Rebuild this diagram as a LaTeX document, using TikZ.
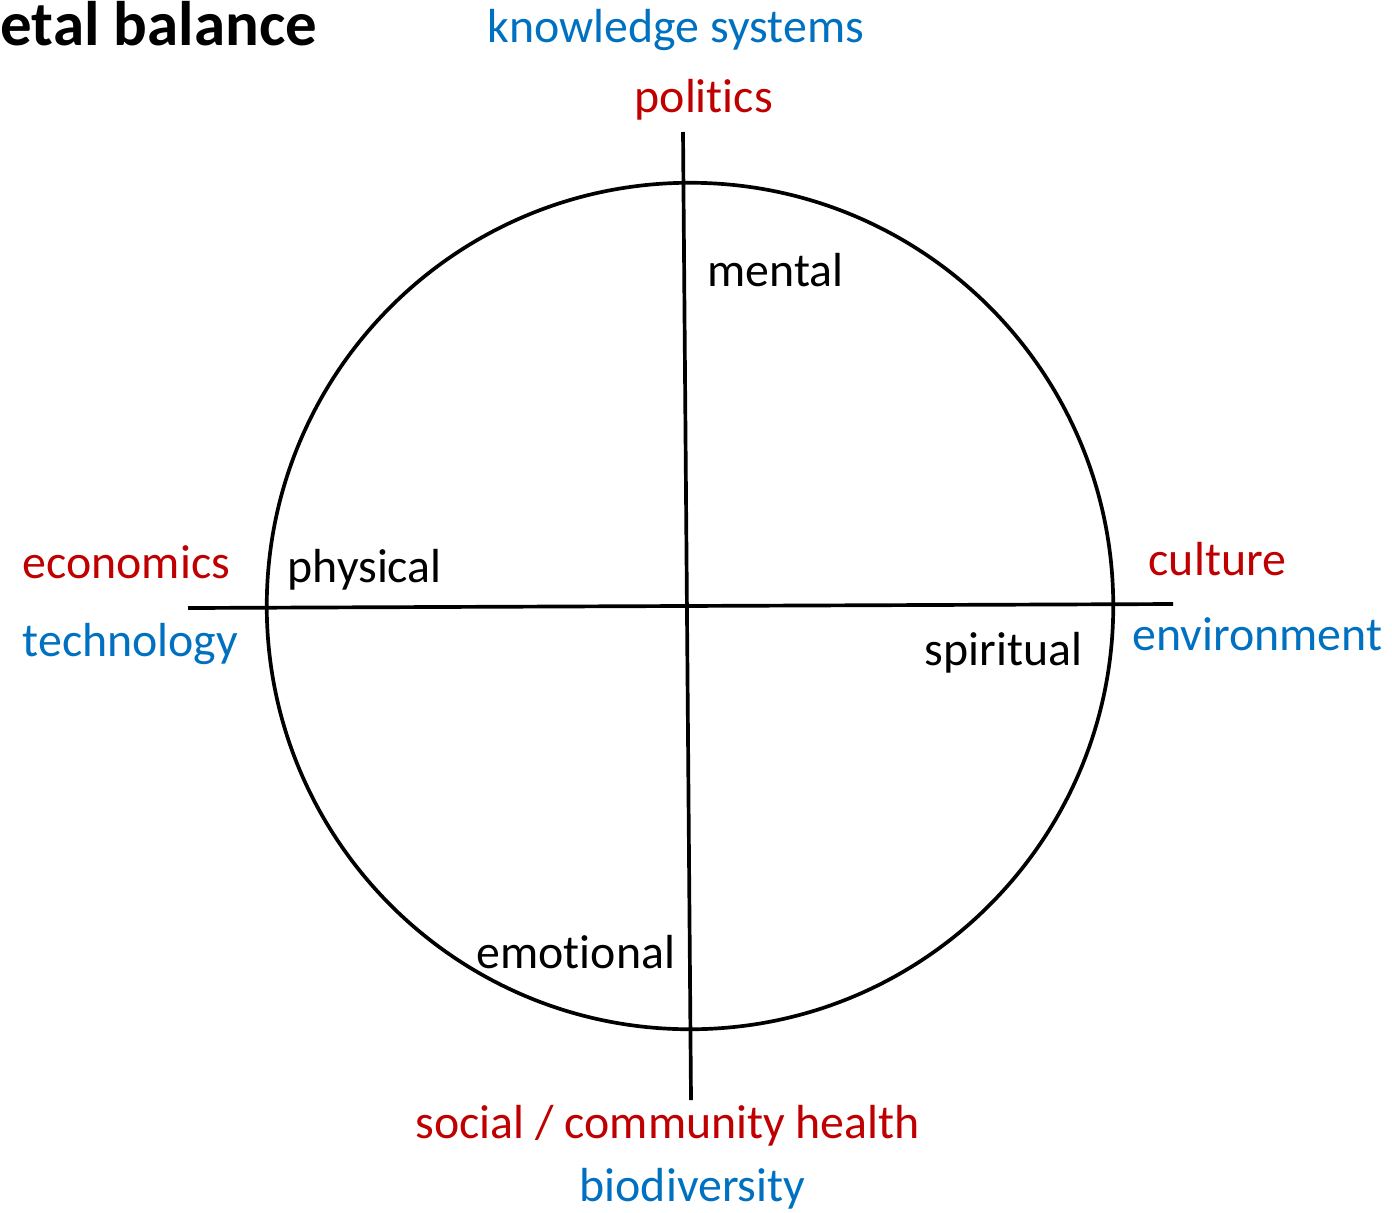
\documentclass[tikz,border=0pt]{standalone}
\usepackage{fontspec}
\setmainfont{Carlito}[Ligatures={NoCommon}]
\definecolor{cred}{RGB}{192,0,0}
\definecolor{cblue}{RGB}{0,112,192}
\begin{document}
\begin{tikzpicture}[x=0.01cm,y=-0.01cm,
  lbl/.style={anchor=base west,inner sep=0pt,font=\fontsize{13.6}{16}\selectfont},
  redlbl/.style={lbl,text=cred},
  bluelbl/.style={lbl,text=cblue},
  axis/.style={line width=1.05pt,black}]
\useasboundingbox (0,0) rectangle (1392,1212);
\node[anchor=base west,inner sep=0pt,font=\fontsize{17.9}{20}\selectfont\bfseries] (title) at (0,45) {etal balance};
\coordinate (vt) at (683,132);
\coordinate (vb) at (691,1100);
\coordinate (hl) at (188,608);
\coordinate (hr) at (1173,604);
\coordinate (c) at (690,606);
\draw[axis] (c) circle[radius=4.23cm];
\draw[axis] (vt) -- (vb);
\draw[axis] (hl) -- (hr);
\node[bluelbl] (ks) at (487,42) {knowledge systems};
\node[redlbl] (pol) at (634,112) {politics};
\node[lbl] (men) at (707,286) {mental};
\node[redlbl] (eco) at (22,578) {economics};
\node[lbl] (phy) at (287,582) {physical};
\node[redlbl] (cul) at (1148,575) {culture};
\node[bluelbl] (tech) at (22,656) {technology};
\node[bluelbl] (env) at (1132,650) {environment};
\node[lbl] (spi) at (924,665) {spiritual};
\node[lbl] (emo) at (476,968) {emotional};
\node[redlbl] (soc) at (415,1138) {social / community health};
\node[bluelbl] (bio) at (579,1201) {biodiversity};
\end{tikzpicture}
\end{document}
